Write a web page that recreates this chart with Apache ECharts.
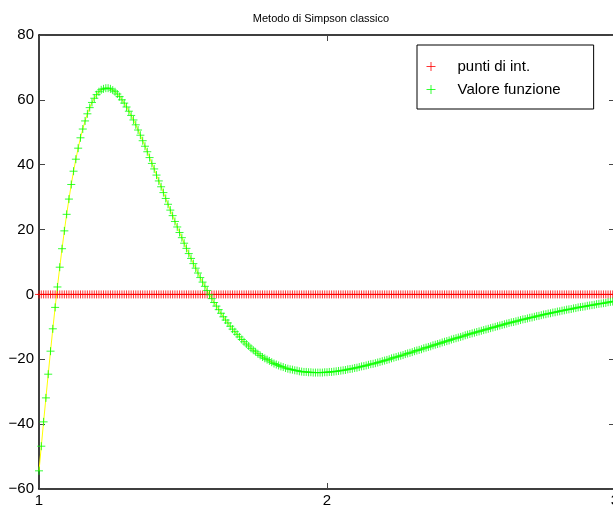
<!DOCTYPE html>
<html><head><meta charset="utf-8">
<script src="https://cdn.jsdelivr.net/npm/echarts@6/dist/echarts.min.js"></script>
<style>html,body{margin:0;padding:0;background:#fff}#c{width:613px;height:508px}</style>
</head><body><div id="c"></div>
<script>
// x of the integration nodes (1 .. 3)
var xNodes = [
1.000,1.008,1.016,1.024,1.032,1.040,1.048,1.056,1.064,1.072,
1.080,1.088,1.096,1.104,1.112,1.120,1.128,1.136,1.144,1.152,
1.160,1.168,1.176,1.184,1.192,1.200,1.208,1.216,1.224,1.232,
1.240,1.248,1.256,1.264,1.272,1.280,1.288,1.296,1.304,1.312,
1.320,1.328,1.336,1.344,1.352,1.360,1.368,1.376,1.384,1.392,
1.400,1.408,1.416,1.424,1.432,1.440,1.448,1.456,1.464,1.472,
1.480,1.488,1.496,1.504,1.512,1.520,1.528,1.536,1.544,1.552,
1.560,1.568,1.576,1.584,1.592,1.600,1.608,1.616,1.624,1.632,
1.640,1.648,1.656,1.664,1.672,1.680,1.688,1.696,1.704,1.712,
1.720,1.728,1.736,1.744,1.752,1.760,1.768,1.776,1.784,1.792,
1.800,1.808,1.816,1.824,1.832,1.840,1.848,1.856,1.864,1.872,
1.880,1.888,1.896,1.904,1.912,1.920,1.928,1.936,1.944,1.952,
1.960,1.968,1.976,1.984,1.992,2.000,2.008,2.016,2.024,2.032,
2.040,2.048,2.056,2.064,2.072,2.080,2.088,2.096,2.104,2.112,
2.120,2.128,2.136,2.144,2.152,2.160,2.168,2.176,2.184,2.192,
2.200,2.208,2.216,2.224,2.232,2.240,2.248,2.256,2.264,2.272,
2.280,2.288,2.296,2.304,2.312,2.320,2.328,2.336,2.344,2.352,
2.360,2.368,2.376,2.384,2.392,2.400,2.408,2.416,2.424,2.432,
2.440,2.448,2.456,2.464,2.472,2.480,2.488,2.496,2.504,2.512,
2.520,2.528,2.536,2.544,2.552,2.560,2.568,2.576,2.584,2.592,
2.600,2.608,2.616,2.624,2.632,2.640,2.648,2.656,2.664,2.672,
2.680,2.688,2.696,2.704,2.712,2.720,2.728,2.736,2.744,2.752,
2.760,2.768,2.776,2.784,2.792,2.800,2.808,2.816,2.824,2.832,
2.840,2.848,2.856,2.864,2.872,2.880,2.888,2.896,2.904,2.912,
2.920,2.928,2.936,2.944,2.952,2.960,2.968,2.976,2.984,2.992,
3.000
];
// function values at the nodes
var fValues = [
-54.4,-46.8,-39.3,-31.9,-24.6,-17.5,-10.6,-4.0,2.3,8.4,
14.1,19.6,24.7,29.4,33.9,38.0,41.7,45.1,48.3,51.0,
53.5,55.7,57.6,59.2,60.5,61.6,62.5,63.1,63.4,63.6,
63.6,63.4,63.0,62.5,61.8,61.0,60.0,59.0,57.8,56.5,
55.2,53.8,52.3,50.7,49.1,47.4,45.7,44.0,42.2,40.4,
38.7,36.8,35.0,33.2,31.4,29.6,27.8,26.0,24.3,22.5,
20.8,19.1,17.5,15.8,14.2,12.6,11.1,9.5,8.1,6.6,
5.2,3.8,2.5,1.2,-0.1,-1.3,-2.5,-3.6,-4.7,-5.8,
-6.9,-7.9,-8.8,-9.8,-10.7,-11.5,-12.3,-13.1,-13.9,-14.6,
-15.3,-15.9,-16.6,-17.2,-17.7,-18.3,-18.8,-19.3,-19.7,-20.1,
-20.5,-20.9,-21.3,-21.6,-21.9,-22.2,-22.4,-22.7,-22.9,-23.1,
-23.2,-23.4,-23.5,-23.7,-23.8,-23.9,-23.9,-24.0,-24.0,-24.1,
-24.1,-24.1,-24.1,-24.1,-24.0,-24.0,-23.9,-23.9,-23.8,-23.7,
-23.6,-23.5,-23.4,-23.3,-23.1,-23.0,-22.9,-22.7,-22.6,-22.4,
-22.2,-22.1,-21.9,-21.7,-21.5,-21.4,-21.2,-21.0,-20.8,-20.6,
-20.4,-20.2,-20.0,-19.7,-19.5,-19.3,-19.1,-18.9,-18.7,-18.4,
-18.2,-18.0,-17.8,-17.5,-17.3,-17.1,-16.9,-16.6,-16.4,-16.2,
-16.0,-15.7,-15.5,-15.3,-15.1,-14.8,-14.6,-14.4,-14.2,-13.9,
-13.7,-13.5,-13.3,-13.1,-12.9,-12.6,-12.4,-12.2,-12.0,-11.8,
-11.6,-11.4,-11.2,-11.0,-10.8,-10.6,-10.4,-10.2,-10.0,-9.8,
-9.6,-9.4,-9.2,-9.0,-8.8,-8.6,-8.5,-8.3,-8.1,-7.9,
-7.7,-7.6,-7.4,-7.2,-7.1,-6.9,-6.7,-6.6,-6.4,-6.2,
-6.1,-5.9,-5.8,-5.6,-5.5,-5.3,-5.2,-5.0,-4.9,-4.7,
-4.6,-4.5,-4.3,-4.2,-4.0,-3.9,-3.8,-3.7,-3.5,-3.4,
-3.3,-3.2,-3.0,-2.9,-2.8,-2.7,-2.6,-2.4,-2.3,-2.2,
-2.1
];
var nodeLevel = 0; // integration points are drawn on y = 0
var xTicks = [1, 2, 3];
var yTicks = [-60, -40, -20, 0, 20, 40, 60, 80];
var titleText = 'Metodo di Simpson classico';
var seriesNames = ['punti di int.', 'Valore funzione'];

var FONT = '"Liberation Sans", Arial, Helvetica, sans-serif';
var plus = 'path://M0,5L10,5M5,0L5,10';
var funcData = xNodes.map(function (x, i) { return [x, fValues[i]]; });
var nodeData = xNodes.map(function (x) { return [x, nodeLevel]; });
function fmt(v) { return v < 0 ? '\u2212' + Math.abs(v) : String(v); }

var axLine = { show: true, onZero: false, lineStyle: { color: '#000', width: 1.5 } };
var axTick = { show: true, inside: true, length: 6, lineStyle: { color: '#444', width: 1 } };

var chart = echarts.init(document.getElementById('c'), null, { renderer: 'canvas' });
chart.setOption({
  animation: false,
  backgroundColor: '#fff',
  title: {
    text: titleText, left: 316, top: 8, textAlign: 'center',
    textStyle: { fontFamily: FONT, fontSize: 11, fontWeight: 'normal', color: '#000' }
  },
  grid: { left: 39, top: 35, width: 576, height: 454, show: false, outerBoundsMode: 'none', containLabel: false },
  legend: {
    orient: 'vertical', left: 417, top: 45,
    padding: [14, 33, 12, 9],
    itemWidth: 9, itemHeight: 9, itemGap: 8,
    borderColor: '#000', borderWidth: 1, backgroundColor: '#fff',
    selectedMode: false,
    textStyle: { fontFamily: FONT, fontSize: 15, color: '#000', lineHeight: 15, padding: [0, 0, 0, 17] },
    data: [
      { name: seriesNames[0], icon: plus, itemStyle: { color: 'transparent', borderColor: '#ff0000', borderWidth: 1 } },
      { name: seriesNames[1], icon: plus, itemStyle: { color: 'transparent', borderColor: '#00ff00', borderWidth: 1 } }
    ]
  },
  xAxis: [
    { type: 'value', position: 'bottom', min: xTicks[0], max: xTicks[xTicks.length - 1], interval: 1,
      axisLine: axLine, axisTick: axTick, splitLine: { show: false },
      axisLabel: { fontFamily: FONT, fontSize: 15, color: '#000', margin: 4, showMaxLabel: true, showMinLabel: true, hideOverlap: false } },
    { type: 'value', position: 'top', min: xTicks[0], max: xTicks[xTicks.length - 1], interval: 1,
      axisLine: axLine, axisTick: axTick, splitLine: { show: false }, axisLabel: { show: false } }
  ],
  yAxis: [
    { type: 'value', position: 'left', min: yTicks[0], max: yTicks[yTicks.length - 1], interval: 20,
      axisLine: axLine, axisTick: axTick, splitLine: { show: false },
      axisLabel: { fontFamily: FONT, fontSize: 15, color: '#000', margin: 5, formatter: fmt } },
    { type: 'value', position: 'right', min: yTicks[0], max: yTicks[yTicks.length - 1], interval: 20,
      axisLine: axLine, axisTick: axTick, splitLine: { show: false }, axisLabel: { show: false } }
  ],
  series: [
    { type: 'line', name: 'curve', data: funcData, showSymbol: false, symbol: 'none',
      lineStyle: { color: '#ffff00', width: 1 }, silent: true, z: 1 },
    { type: 'scatter', name: seriesNames[0], data: nodeData, symbol: plus, symbolSize: 8, clip: false,
      itemStyle: { color: 'transparent', borderColor: '#ff0000', borderWidth: 1 }, silent: true, z: 2 },
    { type: 'scatter', name: seriesNames[1], data: funcData, symbol: plus, symbolSize: 8, clip: false,
      itemStyle: { color: 'transparent', borderColor: '#00ff00', borderWidth: 1 }, silent: true, z: 3 }
  ]
});
</script></body></html>
